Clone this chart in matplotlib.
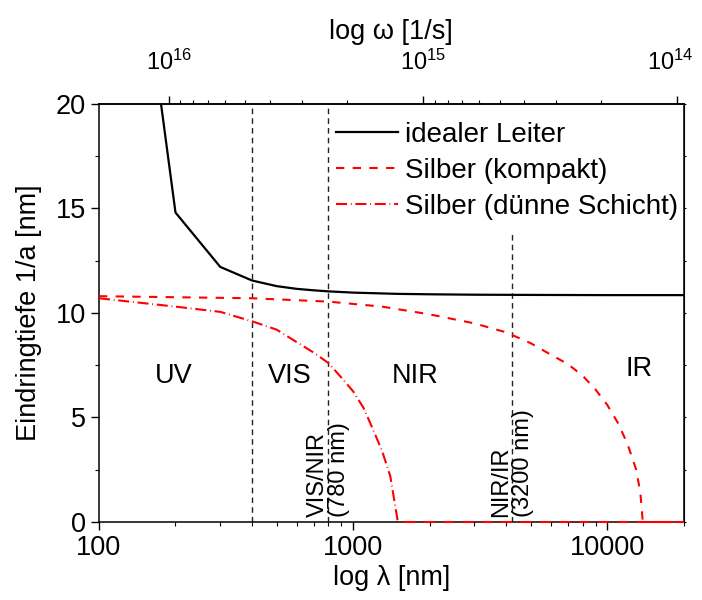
import matplotlib
matplotlib.use("Agg")
import matplotlib.pyplot as plt
from matplotlib.ticker import LogLocator, NullFormatter, MultipleLocator
from matplotlib.transforms import ScaledTranslation

plt.rcParams["font.family"] = ["Liberation Sans", "DejaVu Sans"]
plt.rcParams["mathtext.fontset"] = "custom"
plt.rcParams["mathtext.rm"] = "Liberation Sans"
plt.rcParams["font.size"] = 19.5

# wavelength in nm, penetration depth in nm
ideal_lam = [150, 200, 300, 400, 500, 600, 700, 800, 1000, 1500, 2000, 3000, 5000, 10000, 20000]
ideal_depth = [26.2, 14.8, 12.2, 11.55, 11.28, 11.15, 11.08, 11.03, 10.97, 10.91, 10.89, 10.87, 10.86, 10.85, 10.85]

compact_lam = [100, 400, 800, 1300, 2000, 3000, 4000, 5000, 6000, 7000, 8000, 9000,
               10000, 11000, 12000, 13000, 13500, 13800, 20000]
compact_depth = [10.8, 10.7, 10.54, 10.3, 9.93, 9.5, 9.07, 8.55, 8.0, 7.55, 7.0, 6.33,
                 5.6, 4.75, 3.75, 2.5, 1.4, 0, 0]

thin_lam = [100, 200, 300, 400, 500, 600, 700, 800, 900, 1000, 1100, 1200, 1300, 1400, 1500, 20000]
thin_depth = [10.7, 10.3, 10.05, 9.6, 9.2, 8.6, 8.1, 7.6, 6.9, 6.25, 5.45, 4.4, 3.4, 2.2, 0, 0]

series_labels = ["idealer Leiter", "Silber (kompakt)", "Silber (dünne Schicht)"]

# region borders (position in nm, top of line)
border_lam = [400, 800, 4230]
border_top = [20, 20, 13.9]
border_text = ["", "VIS/NIR\n(780 nm)", "NIR/IR\n(3200 nm)"]

region_names = ["UV", "VIS", "NIR", "IR"]
region_lam = [196, 565, 1750, 13400]
region_y = [7.0, 7.0, 7.0, 7.3]

OMEGA_C = 1.8837e18  # 2*pi*c in nm/s


def lam_to_omega(lam):
    return OMEGA_C / lam


fig = plt.figure(figsize=(7.02, 6.0), dpi=100)
ax = fig.add_axes([0.141, 0.13, 0.833, 0.697])

ax.plot(ideal_lam, ideal_depth, color="black", lw=1.6, label=series_labels[0], zorder=3)
ax.plot(compact_lam, compact_depth, color="red", lw=1.5, ls=(0, (4, 4)),
        label=series_labels[1], zorder=3, clip_on=False)
ax.plot(thin_lam, thin_depth, color="red", lw=1.5, ls=(0, (5.3, 1.8, 0.4, 1.8)),
        label=series_labels[2], zorder=3, clip_on=False)

ax.vlines(border_lam, 0, border_top, colors="#222222", lw=1.0, ls=(0, (4, 3)))
for x, txt in zip(border_lam, border_text):
    if txt:
        ax.text(x, 0.25, txt, rotation=90, ha="center", va="bottom", ma="left",
                linespacing=1.0, fontsize=17)

for name, x, y in zip(region_names, region_lam, region_y):
    ax.text(x, y, name, ha="center", va="center", fontsize=19.5)

ax.set_xscale("log")
ax.set_xlim(100, 20000)
ax.set_ylim(0, 20)
ax.xaxis.set_minor_locator(LogLocator(base=10, subs=range(2, 10), numticks=20))
ax.xaxis.set_minor_formatter(NullFormatter())
ax.set_xticks([100, 1000, 10000])
ax.set_xticklabels(["100", "1000", "10000"])
ax.yaxis.set_major_locator(MultipleLocator(5))
ax.yaxis.set_minor_locator(MultipleLocator(2.5))
ax.tick_params(which="major", direction="out", length=6, width=1.0, labelsize=19.5)
ax.tick_params(which="minor", direction="out", length=3, width=0.8)
for sp in ax.spines.values():
    sp.set_linewidth(1.1)

ax.set_xlabel("log λ [nm]", fontsize=19.5, labelpad=3)
ax.set_ylabel("Eindringtiefe 1/a [nm]", fontsize=19.5, labelpad=10)

# tiny ticks on the right spine
rax = ax.secondary_yaxis("right")
rax.yaxis.set_major_locator(MultipleLocator(5))
rax.yaxis.set_minor_locator(MultipleLocator(2.5))
rax.tick_params(which="both", direction="out", length=1.5, width=0.8, labelright=False)

# top axis: angular frequency, omega = 2 pi c / lambda
sec = ax.secondary_xaxis("top", functions=(lam_to_omega, lam_to_omega))
sec.xaxis.set_major_locator(LogLocator(base=10, numticks=10))
sec.xaxis.set_minor_locator(LogLocator(base=10, subs=range(2, 10), numticks=20))
sec.xaxis.set_minor_formatter(NullFormatter())
sec.tick_params(which="major", direction="out", length=6, width=1.0, labelsize=17, pad=15)
sec.tick_params(which="minor", direction="out", length=3, width=0.8)
sec.spines["top"].set_linewidth(1.1)
sec.set_xlabel("log ω [1/s]", fontsize=19.5)
sec.xaxis.set_label_coords(0.5, 1.156, transform=ax.transAxes)

ax.legend(loc="upper left", bbox_to_anchor=(0.405, 0.957), frameon=False,
          fontsize=20, handlelength=2.25, handletextpad=0.25, labelspacing=0.36,
          borderpad=0, borderaxespad=0)

# keep the right-most omega label inside the figure
fig.canvas.draw()
for tick in sec.xaxis.get_major_ticks():
    if abs(tick.get_loc() - 1e14) < 1e12:
        tick.label2.set_transform(tick.label2.get_transform()
                                  + ScaledTranslation(-5 / 72, 0, fig.dpi_scale_trans))

fig.savefig("out.png", dpi=100)
